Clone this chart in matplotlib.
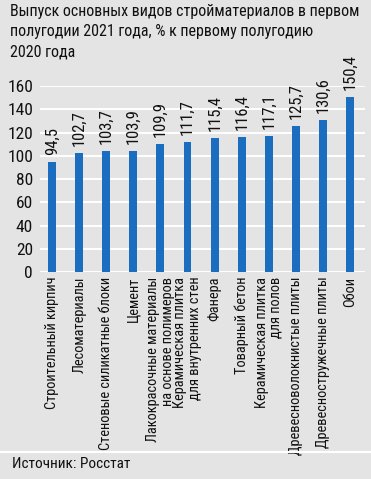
import matplotlib
matplotlib.use("Agg")
import matplotlib.pyplot as plt
from matplotlib import font_manager as fm

categories = [
    "Строительный кирпич",
    "Лесоматериалы",
    "Стеновые силикатные блоки",
    "Цемент",
    "Лакокрасочные материалы\nна основе полимеров",
    "Керамическая плитка\nдля внутренних стен",
    "Фанера",
    "Товарный бетон",
    "Керамическая плитка\nдля полов",
    "Древесноволокнистые плиты",
    "Древесностружечные плиты",
    "Обои",
]
values = [94.5, 102.7, 103.7, 103.9, 109.9, 111.7, 115.4, 116.4, 117.1, 125.7, 130.6, 150.4]
yticks = [0, 20, 40, 60, 80, 100, 120, 140, 160]
title = "Выпуск основных видов стройматериалов в первом\nполугодии 2021 года, % к первому полугодию\n2020 года"
source = "Источник: Росстат"

names = {f.name for f in fm.fontManager.ttflist}
prefs = ["Roboto Condensed", "PT Sans Narrow", "Liberation Sans Narrow", "Fira Sans Condensed",
         "IBM Plex Sans Condensed", "Sofia Sans Condensed", "Archivo Narrow"]
fams = [p for p in prefs if p in names][:1]
plt.rcParams['font.family'] = fams + ['DejaVu Sans']

bg = "#e4e4e4"
blue = "#1a6dbf"
tc = "#111111"

fig = plt.figure(figsize=(3.71, 4.79), dpi=100, facecolor=bg)
ax = fig.add_axes([0.108, 0.432, 0.876, 0.3885])
ax.set_facecolor(bg)
x = list(range(len(values)))
ax.bar(x, values, width=0.29, color=blue, zorder=3)
ax.set_ylim(0, 160)
ax.set_xlim(-0.44, 11.55)
ax.set_yticks(yticks)
ax.set_yticklabels([str(v) for v in yticks], fontsize=12.5, color=tc)
ax.yaxis.grid(True, color="white", linewidth=1.4, zorder=0)
ax.tick_params(axis='y', length=0, pad=5)
ax.tick_params(axis='x', length=0)
ax.set_xticks([])
for s in ax.spines.values():
    s.set_visible(False)

for xi, v in zip(x, values):
    ax.text(xi, v + 6, f"{v:.1f}".replace(".", ","), rotation=90, ha="center", va="bottom",
            fontsize=12, color=tc, clip_on=False)

for xi, c in zip(x, categories):
    ax.text(xi, -4, c, rotation=90, ha="center", va="top", multialignment="right",
            fontsize=10.4, color=tc, linespacing=1.02, clip_on=False)

fig.text(0.027, 0.992, title, ha="left", va="top", fontsize=11.5, color=tc, linespacing=1.45)
fig.add_artist(plt.Line2D([0, 1], [1 - 452 / 479, 1 - 452 / 479], color="white", linewidth=1.5,
                          transform=fig.transFigure))
fig.text(0.032, 1 - 464 / 479, source, ha="left", va="center", fontsize=11, color=tc)

fig.savefig("out.png", dpi=100, facecolor=bg)
